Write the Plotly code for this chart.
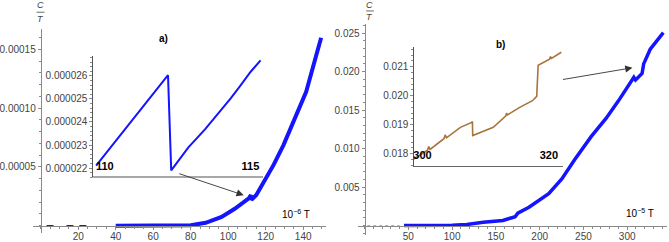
import plotly.graph_objects as go

W, H = 669, 242

# ---------------- data ----------------
# panel a) main curve (T in 1e-6 units, C/T)
ta = [40, 50, 60, 70, 80, 88, 96.5, 103.5, 108.7, 111.0, 112.1, 112.4, 115.0, 119, 124.3, 129.5, 134.7, 141.6, 146.8, 149.6]
ca = [0, 0, 0, 0.0000002, 0.0000005, 0.0000025, 0.0000075, 0.0000144, 0.00002, 0.0000232, 0.000026, 0.000022,
      0.0000262, 0.000037, 0.000052, 0.0000686, 0.000088, 0.000114, 0.000144, 0.00016]
# tiny low-T points of a)
ta_low = [5, 15.6, 22.5]
ca_low = [0, 0, 0]
# inset a)
ta_in = [109.7, 112.17, 112.28, 112.87, 113.44, 114.0, 114.2, 114.33, 114.67, 115.01, 115.35]
ca_in = [0.0000221, 0.00002603, 0.0000219, 0.0000229, 0.00002368, 0.00002453, 0.0000248, 0.00002503,
         0.0000256, 0.00002618, 0.00002667]

# panel b) main curve (T in 1e-5 units)
tb = [45, 60, 80, 100, 116.7, 135.5, 158, 172, 175, 187.8, 210.3, 225.3, 240.3, 259, 275.8, 290,
      307.6, 309.5, 317, 318.8, 326.3, 341.3]
cb = [0, 0, 0, 0.00003, 0.00013, 0.00042, 0.00065, 0.00115, 0.0016, 0.00237, 0.00415, 0.00606, 0.0086,
      0.01158, 0.01391, 0.0162, 0.01925, 0.0189, 0.01976, 0.021, 0.0229, 0.02506]
tb_low = [3, 40]
cb_low = [0, 0]
# inset b)
tb_in = [298.4, 300.8, 301.0, 301.2, 303.4, 303.6, 303.8, 304.7, 306, 307.8, 307.9, 307.95, 311.2, 313.2,
         313.3, 313.45, 315.3, 317.4, 318.07, 318.3, 320.1, 320.25, 320.4, 321.96]
cb_in = [0.017787, 0.018125, 0.01825, 0.01815, 0.018517, 0.01865, 0.01855, 0.0187, 0.01891, 0.01908,
         0.019115, 0.01863, 0.01891, 0.01931, 0.0194, 0.01934, 0.01959, 0.01983, 0.01998, 0.02105,
         0.02126, 0.02135, 0.02129, 0.0215]

# tick labels
xa_ticks = [20, 40, 60, 80, 100, 120, 140]
ya_ticks = [0.00005, 0.00010, 0.00015]
ya_text = ["0.00005", "0.00010", "0.00015"]
xa_in_ticks = [110, 115]
ya_in_ticks = [0.000022, 0.000023, 0.000024, 0.000025, 0.000026]
ya_in_text = ["0.000022", "0.000023", "0.000024", "0.000025", "0.000026"]
xb_ticks = [50, 100, 150, 200, 250, 300]
yb_ticks = [0.005, 0.010, 0.015, 0.020, 0.025]
yb_text = ["0.005", "0.010", "0.015", "0.020", "0.025"]
xb_in_ticks = [300, 320]
yb_in_ticks = [0.018, 0.019, 0.020, 0.021]
yb_in_text = ["0.018", "0.019", "0.020", "0.021"]

BLUE = "#1414ff"
BROWN = "#a8733c"
FONT = "Liberation Sans, Arial, sans-serif"
TICKC = "#444444"
AXC = "#8a8a8a"


def px(p):
    return p / W


def py(p):
    return 1 - p / H


fig = go.Figure()

fig.add_trace(go.Scatter(x=ta, y=ca, mode="lines", line=dict(color=BLUE, width=4), xaxis="x", yaxis="y"))
fig.add_trace(go.Scatter(x=ta_low, y=ca_low, mode="markers",
                         marker=dict(symbol="line-ew", size=5, line=dict(color=BLUE, width=1.5)),
                         xaxis="x", yaxis="y", cliponaxis=False))
fig.add_trace(go.Scatter(x=ta_in, y=ca_in, mode="lines", line=dict(color=BLUE, width=2), xaxis="x2", yaxis="y2"))
fig.add_trace(go.Scatter(x=tb, y=cb, mode="lines", line=dict(color=BLUE, width=3.5), xaxis="x3", yaxis="y3"))
fig.add_trace(go.Scatter(x=tb_low, y=cb_low, mode="lines", line=dict(color=BROWN, width=1, dash="dot"),
                         opacity=0.6, xaxis="x3", yaxis="y3"))
fig.add_trace(go.Scatter(x=tb_in, y=cb_in, mode="lines", line=dict(color=BROWN, width=1.6), xaxis="x4", yaxis="y4"))

tickfont = dict(family=FONT, size=10, color=TICKC)
boldfont = dict(family=FONT, size=11, color="black", weight="bold")

# ---- panel a) main ----
x0a, k_a = 30.2, 1.906          # pixel of T=0, px per unit
y0a, kya = 230.5, 1.2e6          # pixel of C/T=0, px per unit
xa_l, xa_r = 22.6, 320.0
ya_b, ya_t = 238.0, 30.0
# ---- inset a) ----
xi_l, xi_r = 82.7, 256.7
yi_b, yi_t = 181.0, 57.0
# ---- panel b) main ----
x0b, k_b = 359.5, 0.89
y0b, kyb = 230.3, 7860.0
xb_l, xb_r = 353.0, 666.7
yb_b, yb_t = 240.0, 25.0
# ---- inset b) ----
xj_l, xj_r = 409.0, 561.7
yj_b, yj_t = 169.3, 48.0

common_x = dict(showgrid=False, zeroline=False, showline=True, linewidth=1, linecolor=AXC,
                ticks="outside", ticklen=3, tickcolor=AXC, tickfont=tickfont,
                tickmode="array")
common_y = dict(showgrid=False, zeroline=False, showline=True, linewidth=1, linecolor=AXC,
                ticks="outside", ticklen=3, tickcolor=AXC, tickfont=tickfont,
                tickmode="array")

fig.update_layout(
    width=W, height=H, margin=dict(l=0, r=0, t=0, b=0),
    paper_bgcolor="white", plot_bgcolor="rgba(0,0,0,0)", showlegend=False,
    xaxis=dict(common_x, domain=[px(xa_l), px(xa_r)],
               range=[(xa_l - x0a) / k_a, (xa_r - x0a) / k_a],
               tickvals=xa_ticks, anchor="free", position=py(y0a), ticklabelstandoff=-2,
               minor=dict(dtick=5, tick0=0, ticklen=2, ticks="outside", tickcolor=AXC)),
    yaxis=dict(common_y, domain=[py(ya_b), py(ya_t)],
               range=[(y0a - ya_b) / kya, (y0a - ya_t) / kya],
               tickvals=ya_ticks, ticktext=ya_text, anchor="free", position=px(x0a),
               minor=dict(dtick=0.00001, tick0=0, ticklen=2, ticks="outside", tickcolor=AXC)),
    xaxis2=dict(common_x, domain=[px(xi_l), px(xi_r)], range=[109.57, 115.45],
                tickvals=xa_in_ticks, tickfont=boldfont, ticklabelstandoff=-21,
                ticks="", linecolor="#a8a8a8", linewidth=2, anchor="free", position=py(yi_b)),
    yaxis2=dict(common_y, domain=[py(yi_b), py(yi_t)], range=[0.0000216, 0.00002687],
                tickvals=ya_in_ticks, ticktext=ya_in_text, anchor="free", position=px(xi_l),
                linecolor="#555555",
                minor=dict(dtick=0.0000002, tick0=0.000022, ticklen=2, ticks="outside", tickcolor=AXC)),
    xaxis3=dict(common_x, domain=[px(xb_l), px(xb_r)],
                range=[(xb_l - x0b) / k_b, (xb_r - x0b) / k_b],
                tickvals=xb_ticks, anchor="free", position=py(y0b), ticklabelstandoff=-2,
                minor=dict(dtick=10, tick0=0, ticklen=2, ticks="outside", tickcolor=AXC)),
    yaxis3=dict(common_y, domain=[py(yb_b), py(yb_t)],
                range=[(y0b - yb_b) / kyb, (y0b - yb_t) / kyb],
                tickvals=yb_ticks, ticktext=yb_text, anchor="free", position=px(x0b),
                minor=dict(dtick=0.001, tick0=0, ticklen=2, ticks="outside", tickcolor=AXC)),
    xaxis4=dict(common_x, domain=[px(xj_l), px(xj_r)], range=[298.55, 322.3],
                tickvals=xb_in_ticks, tickfont=boldfont, ticklabelstandoff=-21,
                ticks="", linecolor="#666666", linewidth=1, anchor="free", position=py(yj_b)),
    yaxis4=dict(common_y, domain=[py(yj_b), py(yj_t)], range=[0.017584, 0.021682],
                tickvals=yb_in_ticks, ticktext=yb_in_text, anchor="free", position=px(xj_l),
                linecolor="#555555",
                minor=dict(dtick=0.0002, tick0=0.018, ticklen=2, ticks="outside", tickcolor=AXC)),
)

ann = []


def lab(xp, yp, text, size=10, color="black"):
    ann.append(dict(x=px(xp), y=py(yp), xref="paper", yref="paper", text=text, showarrow=False,
                    xanchor="center", yanchor="middle", borderpad=0,
                    font=dict(family=FONT, size=size, color=color)))


# panel labels
lab(155, 39, "<b>a)</b>")
lab(498, 45, "<b>b)</b>")
# axis unit labels
lab(290, 219, "10<sup>−6</sup> T")
lab(640, 217, "10<sup>−5</sup> T")
# C/T fractions
lab(30, 5, "<i>C</i>", 9, TICKC)
lab(30, 19, "<i>T</i>", 9, TICKC)
lab(365, 5, "<i>C</i>", 9, TICKC)
lab(365, 17.5, "<i>T</i>", 9, TICKC)
# arrows (head in data coordinates of main panels)
ann.append(dict(x=108.3, y=0.000026, xref="x", yref="y", ax=-66, ay=-22, text="", showarrow=True,
                arrowhead=2, arrowsize=1.6, arrowwidth=0.9, arrowcolor="#333333", standoff=0))
ann.append(dict(x=306.0, y=0.0205, xref="x3", yref="y3", ax=-71, ay=12, text="", showarrow=True,
                arrowhead=2, arrowsize=1.6, arrowwidth=0.9, arrowcolor="#333333", standoff=0))
fig.update_layout(annotations=ann)

shapes = []
for cx, cyb in [(30, 12.5), (365, 11.2)]:
    shapes.append(dict(type="line", xref="paper", yref="paper", x0=px(cx - 4), x1=px(cx + 4),
                       y0=py(cyb), y1=py(cyb), line=dict(color=TICKC, width=0.8)))
fig.update_layout(shapes=shapes)

fig.write_html("out.html", config={"displayModeBar": False},
               post_script="document.body.style.margin='0';document.body.style.overflow='hidden';")
